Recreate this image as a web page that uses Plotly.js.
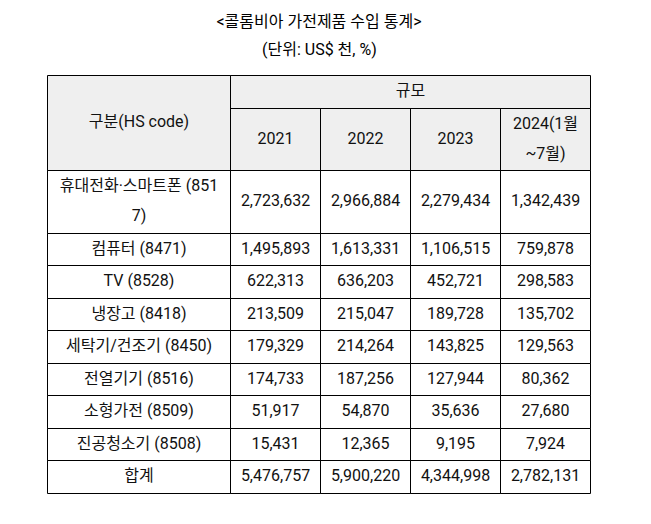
<!DOCTYPE html>
<html>
<head>
<meta charset="utf-8">
<script src="https://cdn.plot.ly/plotly-3.0.1.min.js"></script>
<style>html,body{margin:0;padding:0;background:#fff;}</style>
</head>
<body>
<div id="chart" style="width:651px;height:524px;"></div>
<script>
// ---------- data ----------
const chartTitle = "<콜롬비아 가전제품 수입 통계>";
const chartSubtitle = "(단위: US$ 천, %)";
const firstHeader = "구분(HS code)";
const groupHeader = "규모";
const years = ["2021", "2022", "2023", "2024(1월~7월)"];
const categories = ["휴대전화·스마트폰 (8517)", "컴퓨터 (8471)", "TV (8528)", "냉장고 (8418)",
  "세탁기/건조기 (8450)", "전열기기 (8516)", "소형가전 (8509)", "진공청소기 (8508)", "합계"];
const v2021 = [2723632, 1495893, 622313, 213509, 179329, 174733, 51917, 15431, 5476757];
const v2022 = [2966884, 1613331, 636203, 215047, 214264, 187256, 54870, 12365, 5900220];
const v2023 = [2279434, 1106515, 452721, 189728, 143825, 127944, 35636, 9195, 4344998];
const v2024 = [1342439, 759878, 298583, 135702, 129563, 80362, 27680, 7924, 2782131];
const seriesValues = [v2021, v2022, v2023, v2024];

// ---------- style / layout ----------
const FONT_FAMILY = "Roboto, 'Noto Sans CJK KR', sans-serif";
const FONT_SIZE = 16;
const TEXT_COLOR = "#111111";
const HEADER_FILL = "#efefef";
const LINE_COLOR = "#000000";
const COL_W = [183, 90, 90, 90, 90];
const BASE_ROW = 32.5, LINE_STEP = 30, CELL_PAD = 10;

const ctx = document.createElement('canvas').getContext('2d');
ctx.font = FONT_SIZE + "px " + FONT_FAMILY;
function wrap(str, maxW) {
  const lines = []; let cur = '';
  for (const ch of Array.from(str)) {
    const t = cur + ch;
    if (cur && ctx.measureText(t).width > maxW) { lines.push(cur); cur = ch; }
    else cur = t;
  }
  if (cur) lines.push(cur);
  return lines.map(s => s.trim()).filter(s => s.length);
}
const fmt = v => v.toLocaleString('en-US');

const colEdges = [0];
COL_W.forEach(w => colEdges.push(colEdges[colEdges.length - 1] + w));
const colCenter = i => (colEdges[i] + colEdges[i + 1]) / 2;
const avail = i => COL_W[i] - 2 * CELL_PAD;

// cell lines
const yearLines = years.map((y, i) => wrap(y, avail(i + 1)));
const catLines = categories.map(c => wrap(c, avail(0)));
const valLines = seriesValues.map((arr, j) => arr.map(v => wrap(fmt(v), avail(j + 1))));

const rowLineCounts = [1, Math.max(...yearLines.map(l => l.length))];
categories.forEach((c, r) => {
  let n = catLines[r].length;
  valLines.forEach(col => { n = Math.max(n, col[r].length); });
  rowLineCounts.push(n);
});
const rowEdges = [0]; let acc = 0;
rowLineCounts.forEach(n => { acc += BASE_ROW + (n - 1) * LINE_STEP; rowEdges.push(Math.round(acc)); });
const rowCenter = k => (rowEdges[k] + rowEdges[k + 1]) / 2;
const tableW = colEdges[colEdges.length - 1];

function textTrace(items) {
  const xs = [], ys = [], ts = [];
  items.forEach(it => {
    const n = it.lines.length;
    it.lines.forEach((ln, i) => {
      xs.push(it.x); ys.push(it.y + (i - (n - 1) / 2) * LINE_STEP); ts.push(ln);
    });
  });
  return {
    type: 'scatter', mode: 'text', x: xs, y: ys, text: ts,
    textposition: 'middle center', cliponaxis: false, hoverinfo: 'skip', showlegend: false,
    textfont: {family: FONT_FAMILY, size: FONT_SIZE, color: TEXT_COLOR}
  };
}

const traces = [];
// header texts
const headerItems = [
  {x: colCenter(0), y: (rowEdges[0] + rowEdges[2]) / 2, lines: [firstHeader]},
  {x: (colEdges[1] + colEdges[5]) / 2, y: rowCenter(0), lines: [groupHeader]}
];
yearLines.forEach((l, i) => headerItems.push({x: colCenter(i + 1), y: rowCenter(1), lines: l}));
traces.push(textTrace(headerItems));
// categories
traces.push(textTrace(catLines.map((l, r) => ({x: colCenter(0), y: rowCenter(r + 2), lines: l}))));
// values
valLines.forEach((col, j) => {
  traces.push(textTrace(col.map((l, r) => ({x: colCenter(j + 1), y: rowCenter(r + 2), lines: l}))));
});

// shapes
const shapes = [];
shapes.push({type: 'rect', xref: 'x', yref: 'y', x0: 0, x1: tableW, y0: rowEdges[0], y1: rowEdges[2],
  fillcolor: HEADER_FILL, line: {width: 0}, layer: 'below'});
function outline(x0, x1, y0, y1) {
  shapes.push({type: 'rect', xref: 'x', yref: 'y', x0, x1, y0, y1,
    fillcolor: 'rgba(0,0,0,0)', line: {color: LINE_COLOR, width: 1}, layer: 'below'});
}
outline(colEdges[0], colEdges[1], rowEdges[0], rowEdges[2]);
outline(colEdges[1], colEdges[5], rowEdges[0], rowEdges[1]);
for (let i = 1; i < 5; i++) outline(colEdges[i], colEdges[i + 1], rowEdges[1], rowEdges[2]);
for (let r = 2; r < rowEdges.length - 1; r++)
  for (let i = 0; i < 5; i++) outline(colEdges[i], colEdges[i + 1], rowEdges[r], rowEdges[r + 1]);

// plot area: x 40..600, y 70..500 ; data 0 -> pixel 47.5 / 75.5
const M = {l: 40, r: 51, t: 70, b: 24};
const tableCenterPx = 47.5 + tableW / 2;
const layout = {
  width: 651, height: 524, margin: M,
  paper_bgcolor: '#ffffff', plot_bgcolor: '#ffffff',
  xaxis: {range: [-7.5, 552.5], visible: false, fixedrange: true},
  yaxis: {range: [424.5, -5.5], visible: false, fixedrange: true},
  title: {
    text: chartTitle.replace(/</g, '&lt;').replace(/>/g, '&gt;'),
    xref: 'container', yref: 'container', x: tableCenterPx / 651, y: 1 - 21 / 524,
    xanchor: 'center', yanchor: 'middle',
    font: {family: FONT_FAMILY, size: 16, color: '#000000'}
  },
  annotations: [{
    text: chartSubtitle, xref: 'paper', yref: 'paper',
    x: (tableCenterPx - M.l) / (651 - M.l - M.r), y: 1 + (70 - 50) / (524 - M.t - M.b),
    xanchor: 'center', yanchor: 'middle', showarrow: false,
    font: {family: FONT_FAMILY, size: 16, color: '#000000'}
  }],
  shapes: shapes,
  showlegend: false
};
Plotly.newPlot('chart', traces, layout, {staticPlot: true, displayModeBar: false});
</script>
</body>
</html>
